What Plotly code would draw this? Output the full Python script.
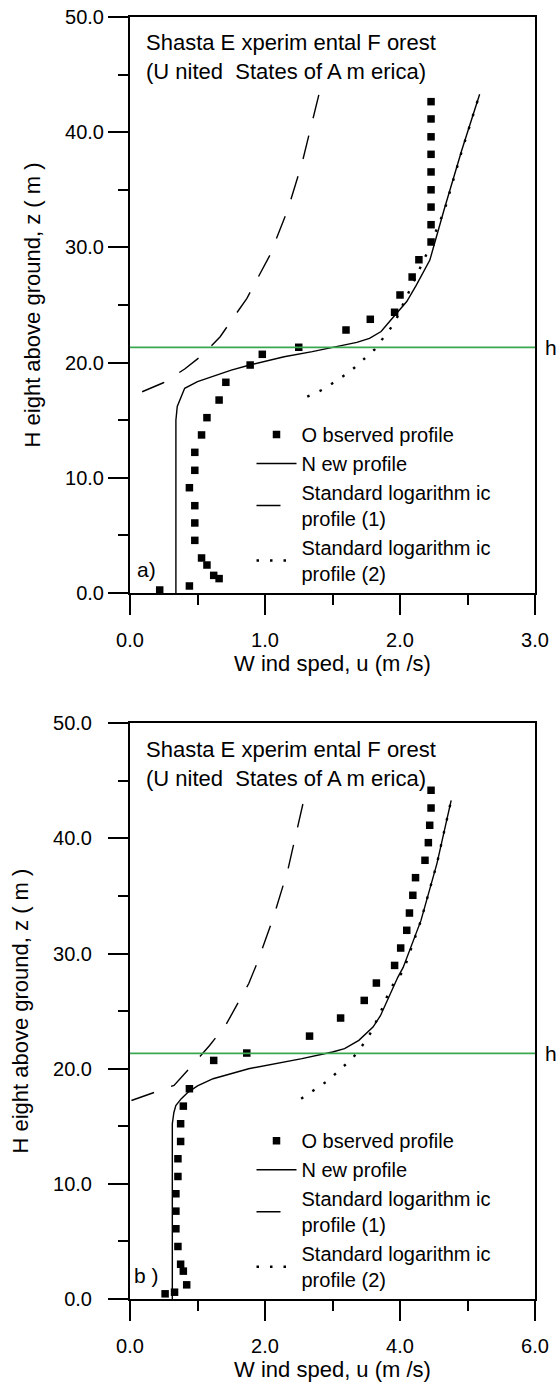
import plotly.graph_objects as go

# ---------------- data: panel a ----------------
obs_a_u = [0.22, 0.44, 0.66, 0.62, 0.57, 0.53, 0.48, 0.48, 0.48, 0.44, 0.48, 0.48, 0.53, 0.57,
           0.66, 0.71, 0.89, 0.98, 1.25, 1.60, 1.78, 1.96, 2.00, 2.09, 2.14, 2.23, 2.23, 2.23,
           2.23, 2.23, 2.23, 2.23, 2.23, 2.23]
obs_a_z = [0.26, 0.61, 1.25, 1.53, 2.43, 3.04, 4.57, 6.08, 7.58, 9.14, 10.65, 12.21, 13.72, 15.22,
           16.75, 18.29, 19.79, 20.72, 21.33, 22.83, 23.76, 24.37, 25.87, 27.43, 28.93, 30.47,
           31.97, 33.50, 35.00, 36.55, 38.08, 39.60, 41.15, 42.65]

new_a_u = [0.34, 0.34, 0.35, 0.38, 0.405, 0.50, 0.616, 0.75, 0.887, 1.142, 1.35, 1.537, 1.68,
           1.774, 1.86, 1.932, 2.00, 2.05, 2.12, 2.221, 2.326, 2.458, 2.59]
new_a_z = [0.0, 15.0, 16.2, 17.1, 17.77, 18.35, 18.84, 19.35, 19.79, 20.51, 20.95, 21.38, 21.75,
           22.1, 22.7, 23.7, 24.6, 25.3, 26.7, 28.9, 33.25, 38.45, 43.3]

log1_a_u = [0.09, 0.247, 0.405, 0.537, 0.668, 0.774, 0.866, 1.037, 1.168, 1.274, 1.353, 1.40]
log1_a_z = [17.47, 18.25, 19.44, 20.66, 22.25, 24.0, 25.58, 29.34, 33.25, 37.3, 41.2, 43.3]

log2_a_u = [1.313, 1.432, 1.629, 1.72, 1.813, 1.892, 1.958, 2.02, 2.10, 2.20, 2.33, 2.46, 2.59]
log2_a_z = [17.04, 17.68, 19.21, 20.17, 21.15, 22.4, 23.4, 25.0, 27.0, 29.5, 33.25, 38.45, 43.3]

# ---------------- data: panel b ----------------
obs_b_u = [0.52, 0.66, 0.84, 0.79, 0.75, 0.71, 0.68, 0.68, 0.68, 0.71, 0.71, 0.75, 0.75, 0.79,
           0.88, 1.24, 1.73, 2.66, 3.12, 3.47, 3.65, 3.92, 4.01, 4.10, 4.14, 4.19, 4.23, 4.37,
           4.42, 4.44, 4.46, 4.46]
obs_b_z = [0.45, 0.59, 1.23, 2.42, 3.02, 4.56, 6.10, 7.63, 9.14, 10.64, 12.18, 13.68, 15.22, 16.75,
           18.26, 20.72, 21.36, 22.83, 24.40, 25.93, 27.44, 28.97, 30.48, 32.02, 33.52, 35.06,
           36.59, 38.10, 39.63, 41.14, 42.64, 44.18]

new_b_u = [0.627, 0.627, 0.65, 0.679, 0.76, 0.863, 1.0, 1.231, 1.758, 2.548, 3.0, 3.179, 3.39,
           3.6, 3.71, 3.81, 3.969, 4.047, 4.311, 4.547, 4.758]
new_b_z = [0.0, 15.22, 16.2, 16.8, 17.4, 17.97, 18.5, 19.13, 20.0, 20.87, 21.45, 21.74, 22.46,
           23.62, 24.6, 25.93, 27.96, 28.8, 32.88, 37.81, 43.3]

log1_b_u = [0.021, 0.39, 0.652, 0.942, 1.179, 1.416, 1.758, 1.889, 2.126, 2.337, 2.495, 2.574]
log1_b_z = [17.24, 17.97, 18.55, 20.43, 22.02, 23.76, 27.38, 29.26, 33.17, 37.23, 41.14, 43.31]

log2_b_u = [2.536, 2.758, 2.942, 3.126, 3.31, 3.442, 3.573, 3.72, 3.86, 4.05, 4.311, 4.547, 4.758]
log2_b_z = [17.39, 18.26, 19.0, 20.0, 21.0, 22.02, 23.18, 25.0, 27.0, 28.5, 32.88, 37.81, 43.3]

canopy_h = 21.33
x_range_a = [0.0, 3.0]
x_range_b = [0.0, 6.0]
y_range = [0.0, 50.0]

# tick values / labels
x_ticks_a = [0.0, 1.0, 2.0, 3.0]
x_ticks_b = [0.0, 2.0, 4.0, 6.0]
y_ticks = [0.0, 10.0, 20.0, 30.0, 40.0, 50.0]
x_ticklabels_a = ["0.0", "1.0", "2.0", "3.0"]
x_ticklabels_b = ["0.0", "2.0", "4.0", "6.0"]
y_ticklabels = ["0.0", "10.0", "20.0", "30.0", "40.0", "50.0"]

legend_names = ["O bserved profile", "N ew profile",
                "Standard logarithm ic<br>profile (1)",
                "Standard logarithm ic<br>profile (2)"]

FONT = "Liberation Sans"
GREEN = "#3aa84f"
CLEAR = "rgba(0,0,0,0)"

fig = go.Figure()


def add_panel(xa, ya, leg, ou, oz, nu, nz, l1u, l1z, l2u, l2z, xr):
    fig.add_trace(go.Scatter(x=ou, y=oz, mode="markers", name=legend_names[0],
                             marker=dict(symbol="square", size=7.5, color="black"),
                             xaxis=xa, yaxis=ya, legend=leg))
    fig.add_trace(go.Scatter(x=nu, y=nz, mode="lines", name=legend_names[1],
                             line=dict(color="black", width=1.4),
                             xaxis=xa, yaxis=ya, legend=leg))
    fig.add_trace(go.Scatter(x=l1u, y=l1z, mode="lines", name=legend_names[2],
                             line=dict(color="black", width=1.4, dash="24px,18px"),
                             xaxis=xa, yaxis=ya, legend=leg))
    fig.add_trace(go.Scatter(x=l2u, y=l2z, mode="lines", name=legend_names[3],
                             line=dict(color="black", width=2.4, dash="2.5px,11px"),
                             xaxis=xa, yaxis=ya, legend=leg))
    fig.add_trace(go.Scatter(x=xr, y=[canopy_h, canopy_h], mode="lines", showlegend=False,
                             line=dict(color=GREEN, width=1.8),
                             xaxis=xa, yaxis=ya, hoverinfo="skip"))


add_panel("x", "y", "legend", obs_a_u, obs_a_z, new_a_u, new_a_z,
          log1_a_u, log1_a_z, log2_a_u, log2_a_z, x_range_a)
add_panel("x2", "y2", "legend2", obs_b_u, obs_b_z, new_b_u, new_b_z,
          log1_b_u, log1_b_z, log2_b_u, log2_b_z, x_range_b)

xtitle = dict(text="W ind sped, u (m /s)", font=dict(family=FONT, size=22, color="black"),
              standoff=6)
ytitle = dict(text="H eight above ground, z ( m )", font=dict(family=FONT, size=22, color="black"),
              standoff=18)


def minor(d):
    return dict(dtick=d, ticks="outside", ticklen=10, tickwidth=2, tickcolor="black")


base = dict(ticks="outside", ticklen=20, tickwidth=2, tickcolor="black",
            showline=True, linecolor="black", linewidth=2, mirror=True,
            gridcolor=CLEAR, zerolinecolor=CLEAR)

# variant A: tick labels from arrays (no tickformat)
xaxis_a = dict(domain=[0, 1], anchor="y", range=x_range_a,
               tickmode="array", tickvals=x_ticks_a, ticktext=x_ticklabels_a,
               tickfont=dict(family=FONT, size=20, color="black"), ticklabelstandoff=8,
               minor=minor(0.5), title=xtitle, **base)
# variant B: default ticks + tickformat, no ticklabelstandoff
yaxis_a = dict(domain=[0.5507, 1.0], anchor="x", range=y_range, dtick=10, tickformat=".1f",
               tickfont=dict(family=FONT, size=20, color="black"),
               minor=minor(5), title=ytitle, **base)
# variant C: arrays, no minor
xaxis_b = dict(domain=[0, 1], anchor="y2", range=x_range_b,
               tickmode="array", tickvals=x_ticks_b, ticktext=x_ticklabels_b,
               tickfont=dict(family=FONT, size=20, color="black"), ticklabelstandoff=8,
               minor=minor(1.0), title=xtitle, **base)
# variant D: arrays, standoff
yaxis_b = dict(domain=[0.0, 0.4491], anchor="x2", range=y_range,
               tickmode="array", tickvals=y_ticks, ticktext=y_ticklabels,
               tickfont=dict(family=FONT, size=20, color="black"), ticklabelstandoff=12,
               minor=minor(5), title=ytitle, **base)

legend_common = dict(xanchor="left", yanchor="top", bgcolor=CLEAR,
                     font=dict(family=FONT, size=20, color="black"), itemwidth=40,
                     tracegroupgap=0)

fig.update_layout(
    width=558, height=1383,
    margin=dict(l=130, r=23, t=17, b=84, autoexpand=False),
    paper_bgcolor="white", plot_bgcolor="white",
    font=dict(family=FONT, color="black"),
    xaxis=xaxis_a, yaxis=yaxis_a, xaxis2=xaxis_b, yaxis2=yaxis_b,
    legend=dict(x=0.300, y=0.6896, **legend_common),
    legend2=dict(x=0.300, y=0.1387, **legend_common),
    showlegend=True,
)

site_text = "Shasta E xperim ental F orest<br>(U nited  States of A m erica)"
for xr_, yr_, lab in [("x domain", "y domain", "a)"), ("x2 domain", "y2 domain", "b )")]:
    fig.add_annotation(x=0.035, y=0.93, xref=xr_, yref=yr_, text=site_text, showarrow=False,
                       xanchor="left", yanchor="middle", align="left",
                       font=dict(family=FONT, size=22, color="black"))
    fig.add_annotation(x=0.04, y=0.04, xref=xr_, yref=yr_, text=lab, showarrow=False,
                       xanchor="center", yanchor="middle",
                       font=dict(family=FONT, size=21, color="black"))

for xr_, yr_ in [("x domain", "y"), ("x2 domain", "y2")]:
    fig.add_annotation(x=1.04, y=canopy_h, xref=xr_, yref=yr_, text="h", showarrow=False,
                       xanchor="center", yanchor="middle",
                       font=dict(family=FONT, size=21, color="black"))

fig.write_html("out.html", config={"displayModeBar": False},
               post_script="document.body.style.margin='0';document.body.style.overflow='hidden';")
